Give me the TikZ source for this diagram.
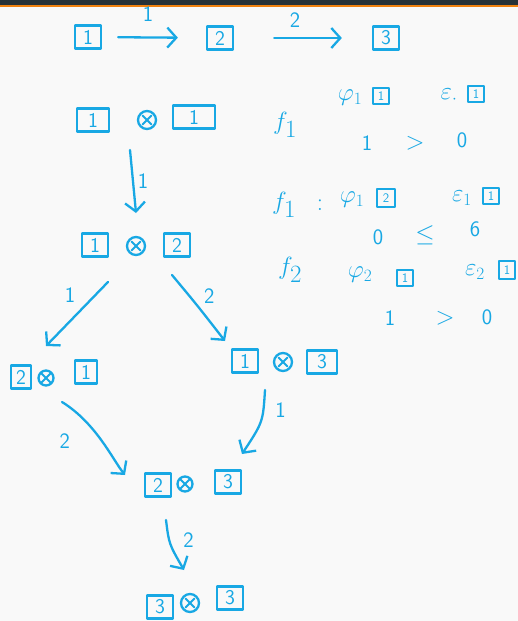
\documentclass[tikz,border=0pt]{standalone}
\usetikzlibrary{arrows.meta,calc}
\definecolor{ink}{HTML}{18A8E4}
\definecolor{bg}{HTML}{F9F9F9}
\definecolor{topbar}{HTML}{263238}
\definecolor{orng}{HTML}{F0820F}
\tikzset{
  ink/.style={draw=ink, line width=2.3pt, line cap=round, line join=round},
  bx/.style={ink, text=ink, minimum width=26pt, minimum height=23pt, inner sep=0pt, font=\sffamily\fontsize{21}{21}\selectfont},
  sbx/.style={ink, line width=2.1pt, text=ink, minimum size=16pt, inner sep=0pt, font=\sffamily\fontsize{13}{13}\selectfont},
  ox/.style={circle, ink, minimum size=18pt, inner sep=0pt,
    path picture={\draw[ink, line width=1.8pt] ([shift={(-4.5,-4.5)}]path picture bounding box.center) -- ++(9,9);
                  \draw[ink, line width=1.8pt] ([shift={(-4.5,4.5)}]path picture bounding box.center) -- ++(9,-9);}},
  arr/.style={ink, -{Straight Barb[length=9pt,width=20pt,line width=2.3pt]}},
  lbl/.style={text=ink, inner sep=0pt, font=\sffamily\fontsize{22}{22}\selectfont},
  mth/.style={text=ink, inner sep=0pt, font=\fontsize{24}{24}\selectfont},
  fbig/.style={text=ink, inner sep=0pt, font=\fontsize{34}{34}\selectfont},
}
\begin{document}
\begin{tikzpicture}[x=1pt,y=-1pt]
\useasboundingbox (0,0) rectangle (518,621);
\fill[bg] (0,0) rectangle (518,621);
\fill[topbar] (0,0) rectangle (518,5);
\fill[orng] (0,5) rectangle (518,7);

% top row
\node[bx] (t1) at (88,37) {1};
\node[bx] (t2) at (220,38) {2};
\node[bx] (t3) at (386,38) {3};
\draw[arr, shorten <=16pt, shorten >=28pt] (t1) -- node[lbl, xshift=-6pt, yshift=23pt] (l1) {1} (t2);
\draw[arr, shorten <=40pt, shorten >=30pt] (t2) -- node[lbl, xshift=-8pt, yshift=18pt] (l2) {2} (t3);

% row 2
\node[bx, minimum width=32pt] (a1) at (93,120) {1};
\node[ox] (ax) at (147,120) {};
\node[bx, minimum width=42pt] (a2) at (194,117) {1};

% row 3
\node[bx] (b1) at (95,245) {1};
\node[ox] (bx) at (136,246) {};
\node[bx] (b2) at (177,245) {2};
\draw[arr] ($(ax)+(-17,30)$) -- node[lbl, xshift=10pt] (l3) {1} ($(bx)+(0,-33)$);

% row 4 left
\node[bx, minimum width=20pt] (c1) at (21,377) {2};
\node[ox, minimum size=15pt] (cx) at (46,378) {};
\node[bx, minimum width=22pt] (c2) at (86,372) {1};
% row 4 right
\node[bx] (d1) at (245,361) {1};
\node[ox] (dx) at (283,362) {};
\node[bx, minimum width=30pt] (d2) at (322,362) {3};

\draw[arr] ($(b1)+(13,37)$) -- node[lbl, xshift=-7pt, yshift=19pt] (l4) {1} ($(cx)+(0,-32)$);
\draw[arr] ($(b2)+(-5,30)$) .. controls ($(b2)+(20,60)$) .. node[lbl, xshift=12pt, yshift=10pt] (l5) {2} ($(d1)+(-20,-20)$);

% row 5
\node[bx] (e1) at (158,485) {2};
\node[ox, minimum size=15pt] (ex) at (185,484) {};
\node[bx] (e2) at (228,482) {3};

\draw[arr] ($(cx)+(16,24)$) .. controls ($(cx)+(50,45)$) and ($(e1)+(-45,-25)$) .. node[lbl, xshift=-37pt] (l6) {2} ($(e1)+(-33,-10)$);
\draw[arr] ($(dx)+(-18,28)$) .. controls ($(dx)+(-20,60)$) .. node[lbl, xshift=20pt, yshift=12pt] (l7) {1} ($(e2)+(14,-28)$);

% row 6
\node[bx] (f1) at (160,607) {3};
\node[ox] (fx) at (190,603) {};
\node[bx, minimum width=26pt] (f2) at (230,598) {3};
\draw[arr] ($(ex)+(-19,36)$) .. controls ($(ex)+(-16,60)$) .. node[lbl, xshift=18pt, yshift=4pt] (l8) {2} ($(fx)+(-6,-33)$);

% right-hand notes
\node[fbig] (n1) at (285,125) {$f_1$};
\node[mth] (n2) at (350,98) {$\varphi_1$};
\node[sbx] (n3) at (381,96) {1};
\node[mth] (n4) at (449,96) {$\varepsilon_{\cdot}$};
\node[sbx] (n5) at (476,94) {1};
\node[lbl] (n6) at (367,143) {1};
\node[mth] (n7) at (415,143) {$>$};
\node[lbl] (n8) at (462,140) {0};

\node[fbig] (m1) at (284,205) {$f_1$};
\node[mth] (m2) at (320,205) {$:$};
\node[mth] (m3) at (352,200) {$\varphi_1$};
\node[sbx, minimum size=18pt] (m4) at (386,198) {2};
\node[mth] (m5) at (462,198) {$\varepsilon_1$};
\node[sbx] (m6) at (491,196) {1};
\node[lbl] (m7) at (378,237) {0};
\node[mth] (m8) at (425,235) {$\leq$};
\node[lbl] (m9) at (475,229) {6};

\node[fbig] (k1) at (290,270) {$f_2$};
\node[mth] (k2) at (360,275) {$\varphi_2$};
\node[sbx] (k3) at (405,278) {1};
\node[mth] (k4) at (475,272) {$\varepsilon_2$};
\node[sbx, minimum height=18pt] (k5) at (507,270) {1};
\node[lbl] (k6) at (390,318) {1};
\node[mth] (k7) at (445,318) {$>$};
\node[lbl] (k8) at (487,317) {0};
\end{tikzpicture}
\end{document}
